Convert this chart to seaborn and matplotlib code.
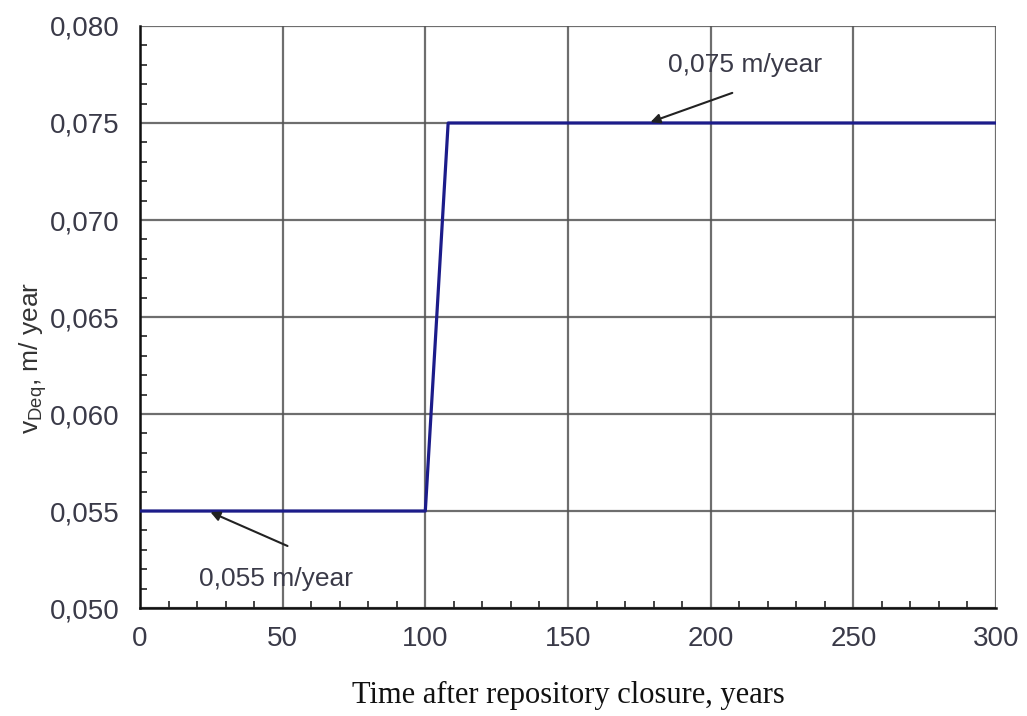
import matplotlib
matplotlib.use("Agg")
import matplotlib.pyplot as plt
from matplotlib.ticker import MultipleLocator, FuncFormatter
import seaborn as sns
import pandas as pd

# Equivalent flow rate through the deposit over time
time_years = [0, 100, 108, 300]
velocity = [0.055, 0.055, 0.075, 0.075]

x_ticks = [0, 50, 100, 150, 200, 250, 300]
y_ticks = [0.050, 0.055, 0.060, 0.065, 0.070, 0.075, 0.080]

label_low = "0,055 m/year"
label_high = "0,075 m/year"

sns.set_style("white")
plt.rcParams["font.family"] = ["Liberation Sans", "DejaVu Sans"]

df = pd.DataFrame({"t": time_years, "v": velocity})

fig = plt.figure(figsize=(10.27, 7.16), dpi=100)
ax = fig.add_axes([0.1363, 0.1508, 0.8335, 0.8129])

sns.lineplot(data=df, x="t", y="v", ax=ax, color="#1c1c8a", linewidth=2.3,
             zorder=5)

ax.set_xlim(0, 300)
ax.set_ylim(0.050, 0.080)
ax.set_xticks(x_ticks)
ax.set_yticks(y_ticks)
ax.xaxis.set_minor_locator(MultipleLocator(10))
ax.yaxis.set_minor_locator(MultipleLocator(0.001))
ax.yaxis.set_major_formatter(FuncFormatter(lambda v, p: f"{v:.3f}".replace(".", ",")))
ax.xaxis.set_major_formatter(FuncFormatter(lambda v, p: f"{v:.0f}"))

ax.grid(True, which="major", color="#555555", linewidth=1.6, alpha=0.85)
ax.tick_params(which="major", direction="out", length=7, width=1.4,
               labelsize=20, colors="#222", labelcolor="#3a3a48", pad=8)
ax.tick_params(which="minor", direction="in", length=5, width=1.2,
               colors="#222", bottom=True, left=True)
ax.tick_params(axis="x", pad=6)

for side in ("left", "bottom"):
    ax.spines[side].set_color("#111")
    ax.spines[side].set_linewidth(1.8)
for side in ("top", "right"):
    ax.spines[side].set_visible(False)

ax.set_xlabel("Time after repository closure, years",
              family=["Liberation Serif", "DejaVu Serif"], fontsize=22,
              color="#111")
ax.xaxis.set_label_coords(0.5, -0.126)
ax.set_ylabel(r"v$_{\mathregular{Deq}}$, m/ year", fontsize=19, color="#333")
ax.yaxis.set_label_coords(-0.106, 0.43)

arrow = dict(arrowstyle="-|>", color="#222", linewidth=1.5, mutation_scale=14)
ax.annotate("", xy=(178, 0.075), xytext=(208.5, 0.0766),
            arrowprops=arrow, zorder=6)
ax.text(212, 0.0780, label_high, fontsize=19, color="#3a3a48",
        ha="center", va="center")
ax.annotate("", xy=(23.8, 0.0550), xytext=(52.6, 0.05314),
            arrowprops=arrow, zorder=6)
ax.text(47.7, 0.0515, label_low, fontsize=19, color="#3a3a48",
        ha="center", va="center")

fig.savefig("out.png", dpi=100)
